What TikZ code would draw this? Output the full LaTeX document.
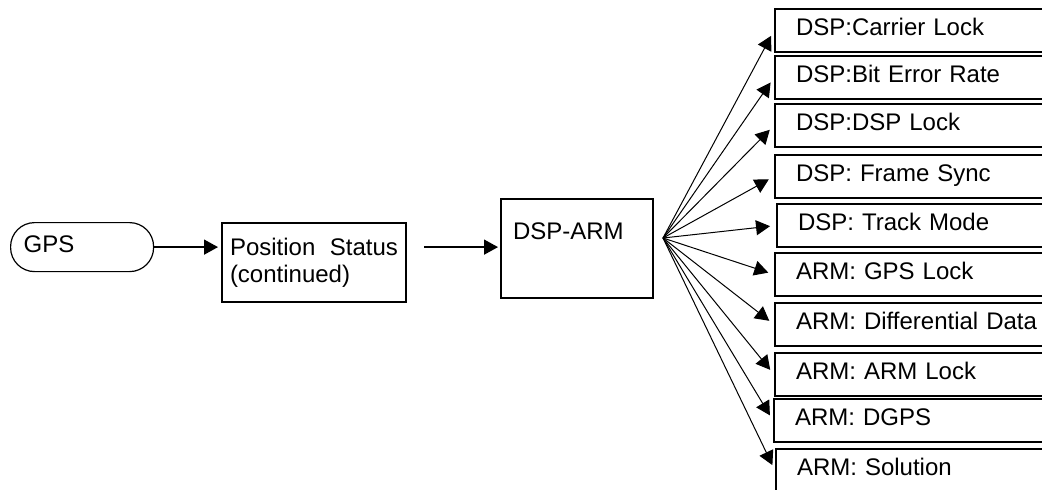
\documentclass[tikz,border=0pt]{standalone}
\usepackage{fontspec}
\setmainfont{Liberation Sans}
\usetikzlibrary{positioning,arrows.meta}

\begin{document}
\begin{tikzpicture}[x=0.5pt,y=-0.5pt,font=\fontsize{12}{13.5}\selectfont,
    box/.style={draw,line width=1pt,rectangle,inner ysep=0pt,align=left},
    outbox/.style={box,anchor=north west,inner xsep=10.5pt,text width=130pt,text height=13pt,text depth=8.5pt},
    link/.style={-{Triangle[length=7pt,width=7.5pt]},line width=0.8pt},
    fanlink/.style={link,line width=0.5pt,shorten >=3pt}]
    \useasboundingbox (0,0) rectangle (1042,489);
    \clip (0,0) rectangle (1042,489);

    \node[draw,line width=0.6pt,rounded corners=12pt,anchor=north west,inner xsep=6.5pt,inner ysep=0pt,
      text width=58.5pt,text height=15pt,text depth=9.5pt] (gps) at (10,222) {GPS};
    \node[box,anchor=north west,inner xsep=4pt,text width=84pt,minimum height=39.5pt] (pos) at (221,222)
      {Position\hfill Status\\(continued)};
    \node[box,anchor=north west,inner xsep=6pt,text width=64pt,text height=20pt,text depth=29.5pt] (dsparm) at (500,198) {DSP-ARM};

    \draw[link,shorten >=1.5pt] (gps.east) -- (gps.east -| pos.west);
    \draw[link,shorten <=8.5pt,shorten >=1pt] (gps.east -| pos.east) -- (gps.east -| dsparm.west);

    \foreach \n/\xx/\yy/\txt in {1/774/8/DSP:Carrier Lock, 2/774/55/DSP:Bit Error Rate, 3/774/103/DSP:DSP Lock,
        4/774/154/DSP: Frame Sync, 5/776/203/DSP: Track Mode, 6/774/252/ARM: GPS Lock,
        7/774/302/ARM: Differential Data, 8/774/352/ARM: ARM Lock, 9/773/398/ARM: DGPS, 10/775/448/ARM: Solution}
      \node[outbox] (out\n) at (\xx,\yy) {\txt};

    \coordinate (fan) at (663,238);
    \foreach \n in {1,...,10}
      \draw[fanlink] (fan) -- (out\n.west);
\end{tikzpicture}
\end{document}
